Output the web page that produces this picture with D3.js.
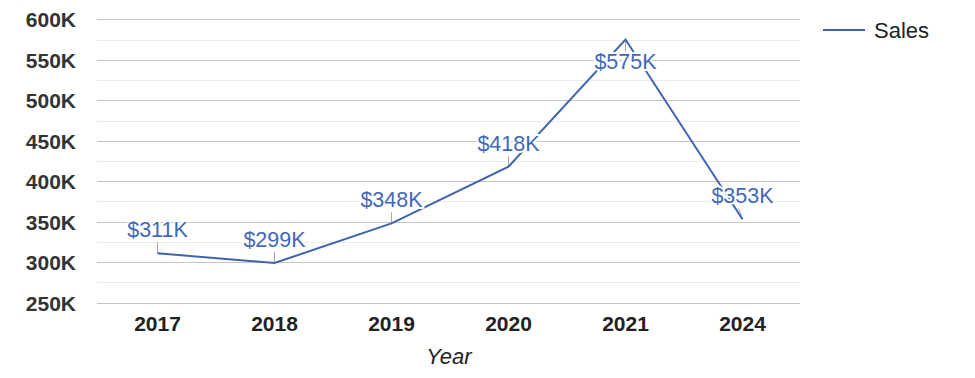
<!DOCTYPE html>
<html><head><meta charset="utf-8">
<script src="https://cdn.jsdelivr.net/npm/d3@7"></script>
<style>
html,body{margin:0;padding:0;background:#fff;}
svg{display:block;font-family:"Liberation Sans",Arial,sans-serif;}
</style></head>
<body><svg id="c" width="975" height="378"></svg>
<script>
const years = ["2017","2018","2019","2020","2021","2024"];
const sales = [311, 299, 348, 418, 575, 353];
const yTicks = [250, 300, 350, 400, 450, 500, 550, 600];
const seriesName = "Sales";
const xTitle = "Year";

const svg = d3.select("#c");
const L = 98, R = 800, T = 19.3, B = 302.7;
const x = d3.scaleBand().domain(years).range([L, R]).padding(0);
const y = d3.scaleLinear().domain([250, 600]).range([B, T]);

// minor gridlines
const minor = d3.range(275, 600, 50);
svg.append("g").selectAll("line").data(minor).join("line")
  .attr("x1", L - 1).attr("x2", R).attr("y1", d => Math.round(y(d)) + 0.5).attr("y2", d => Math.round(y(d)) + 0.5)
  .attr("stroke", "#ebebeb").attr("stroke-width", 1);
// major gridlines
svg.append("g").selectAll("line").data(yTicks).join("line")
  .attr("x1", L - 1).attr("x2", R).attr("y1", d => Math.round(y(d)) + 0.5).attr("y2", d => Math.round(y(d)) + 0.5)
  .attr("stroke", "#c6c6c6").attr("stroke-width", 1);

// y axis labels
const yAxis = d3.axisLeft(y).tickValues(yTicks).tickFormat(d => d + "K").tickSize(0).tickPadding(0);
const gy = svg.append("g").attr("transform", `translate(${L - 22},0)`).call(yAxis);
gy.select(".domain").remove();
gy.selectAll("text").attr("font-size", 21).attr("font-weight", "bold").attr("fill", "#333")
  .attr("font-family", "'Liberation Sans',Arial,sans-serif").attr("dy", "0.35em");

// x axis labels
const xAxis = d3.axisBottom(x).tickSize(0).tickPadding(0);
const gx = svg.append("g").attr("transform", `translate(1,${B + 13})`).call(xAxis);
gx.select(".domain").remove();
gx.selectAll("text").attr("font-size", 21).attr("font-weight", "bold").attr("fill", "#222")
  .attr("font-family", "'Liberation Sans',Arial,sans-serif").attr("dy", "0.72em");

svg.append("text").attr("x", (L + R) / 2).attr("y", 364).attr("text-anchor", "middle")
  .attr("font-size", 22).attr("font-style", "italic").attr("fill", "#222").text(xTitle);

const data = years.map((yr, i) => ({yr, v: sales[i]}));
const px = d => x(d.yr) + x.bandwidth() / 2 + 1;

// leaders
svg.append("g").selectAll("line").data(data).join("line")
  .attr("x1", px).attr("x2", d => d.yr === "2024" ? px(d) - 4 : px(d))
  .attr("y1", d => y(d.v))
  .attr("y2", d => y(d.v) < 60 ? y(d.v) + 12 : y(d.v) - 11)
  .attr("stroke", "#a8a8a8").attr("stroke-width", 1);

// line
const line = d3.line().x(px).y(d => y(d.v));
svg.append("path").datum(data).attr("d", line).attr("fill", "none")
  .attr("stroke", "#3d63b0").attr("stroke-width", 2);

// labels
svg.append("g").selectAll("text").data(data).join("text")
  .attr("x", px).attr("y", d => y(d.v) < 60 ? y(d.v) + 22 : y(d.v) - 23)
  .attr("text-anchor", "middle").attr("dominant-baseline", "central")
  .attr("font-size", 21.5).attr("fill", "#3f68b8")
  .attr("stroke", "#fff").attr("stroke-width", 4).attr("paint-order", "stroke").attr("stroke-linejoin", "round")
  .text(d => "$" + d.v + "K");

// legend
svg.append("line").attr("x1", 823).attr("x2", 865).attr("y1", 30).attr("y2", 30)
  .attr("stroke", "#3d63b0").attr("stroke-width", 2);
svg.append("text").attr("x", 874).attr("y", 30).attr("dominant-baseline", "central")
  .attr("font-size", 22).attr("fill", "#222").text(seriesName);
</script></body></html>
